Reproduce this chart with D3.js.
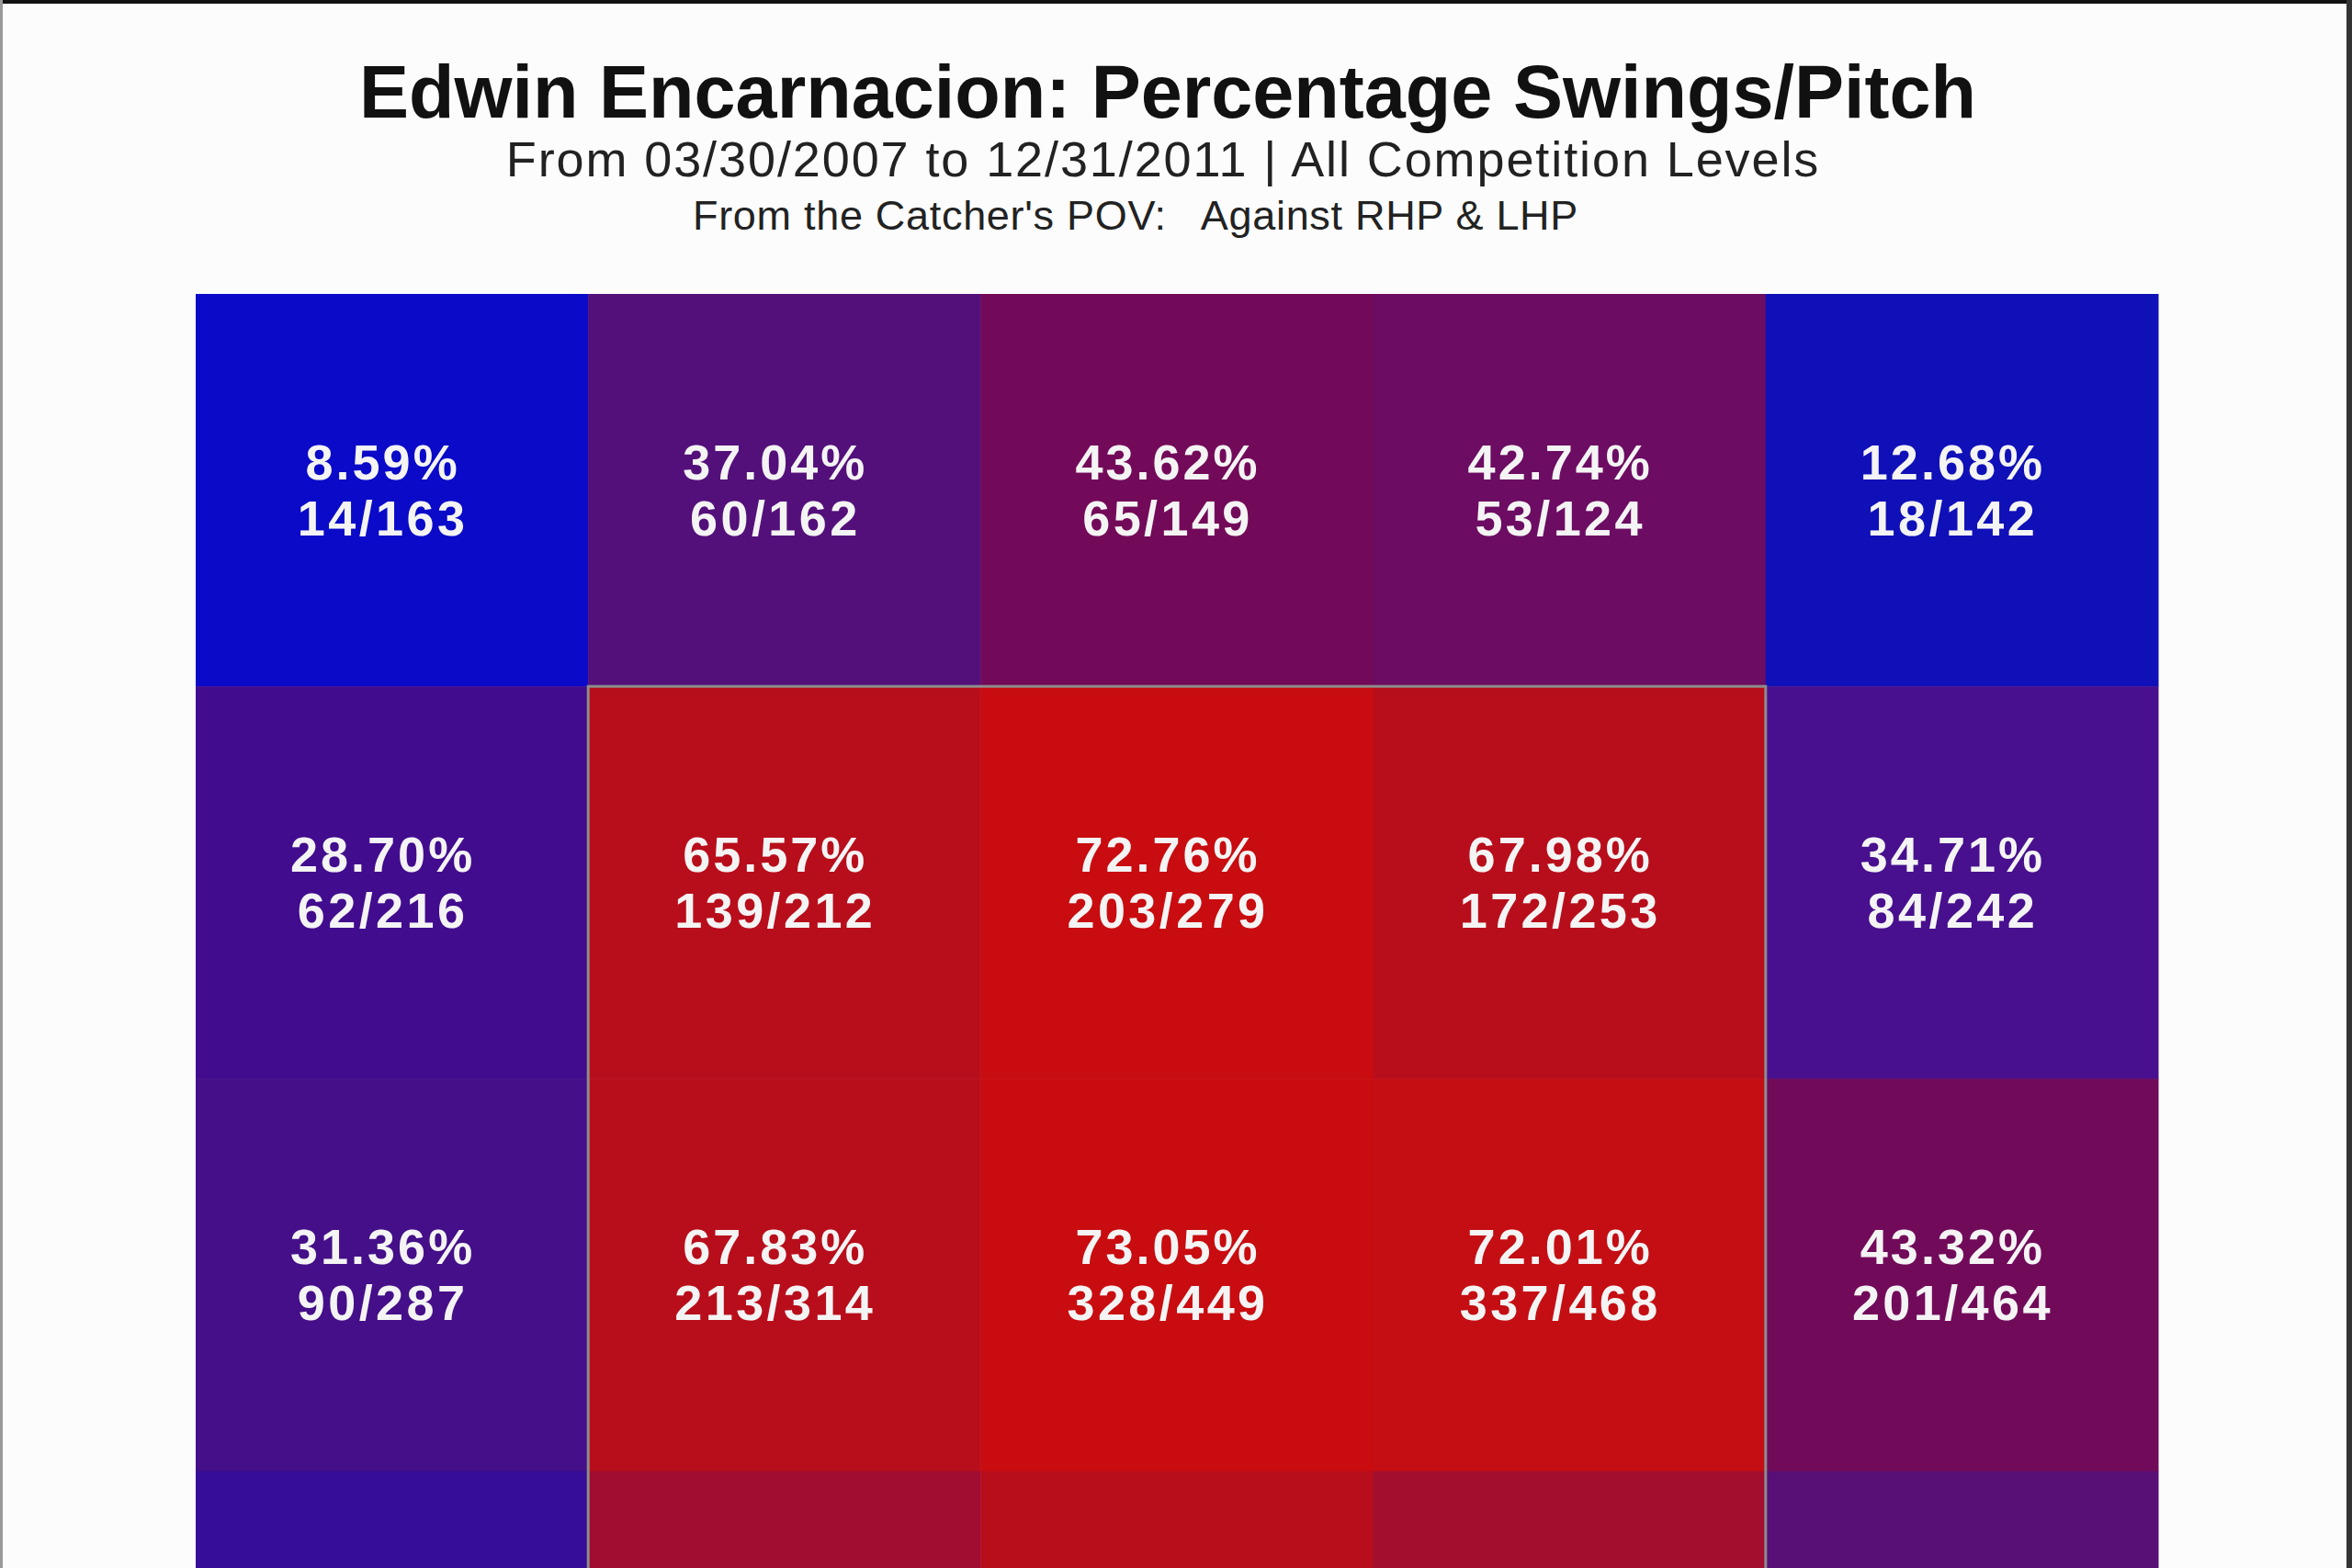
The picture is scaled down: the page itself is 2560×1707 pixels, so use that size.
<!DOCTYPE html>
<html>
<head>
<meta charset="utf-8">
<script src="https://cdn.jsdelivr.net/npm/d3@7"></script>
<style>
  html, body { margin: 0; padding: 0; background: #fcfcfc; }
  svg { display: block; }
  text { font-family: "Liberation Sans", Arial, sans-serif; }
</style>
</head>
<body>
<script>
// ---------- data ----------
const titleText = "Edwin Encarnacion: Percentage Swings/Pitch";
const subtitleText = "From 03/30/2007 to 12/31/2011 | All Competition Levels";
const povText = "From the Catcher's POV:   Against RHP & LHP";

const rowIds = [0, 1, 2, 3];          // top to bottom (row 3 mostly cut off)
const colIds = [0, 1, 2, 3, 4];       // left to right (catcher's view)

// percentage of swings per pitch, per row
const pctRow0 = [8.59, 37.04, 43.62, 42.74, 12.68];
const pctRow1 = [28.70, 65.57, 72.76, 67.98, 34.71];
const pctRow2 = [31.36, 67.83, 73.05, 72.01, 43.32];
const pctRow3 = [25, 58, 66, 59, 38];   // estimated from colour, labels not visible

const swingsRow0 = [14, 60, 65, 53, 18];
const swingsRow1 = [62, 139, 203, 172, 84];
const swingsRow2 = [90, 213, 328, 337, 201];
const pitchesRow0 = [163, 162, 149, 124, 142];
const pitchesRow1 = [216, 212, 279, 253, 242];
const pitchesRow2 = [287, 314, 449, 468, 464];

const pctRows = [pctRow0, pctRow1, pctRow2, pctRow3];
const swingRows = [swingsRow0, swingsRow1, swingsRow2, null];
const pitchRows = [pitchesRow0, pitchesRow1, pitchesRow2, null];

// strike zone: rows 1..3, cols 1..3
const zoneRowRange = [1, 3];
const zoneColRange = [1, 3];

// ---------- colour scale (style) ----------
const colorDomain = [8.59, 12.68, 28.70, 31.36, 34.71, 37.04, 42.74, 43.32, 65.57, 67.98, 72.0, 72.76];
const colorRange = ["#0a0ac8", "#1010b8", "#420c8e", "#440f88", "#48108e", "#54107a",
                    "#6c0c62", "#720a5a", "#b80e1c", "#b80e1c", "#c40e14", "#c80c10"];
const color = d3.scaleLinear().domain(colorDomain).range(colorRange).clamp(true);

// ---------- layout ----------
const W = 2560, H = 1707;
const gridLeft = 213, gridTop = 320, cell = 427.2;

const cells = [];
rowIds.forEach(r => colIds.forEach(c => {
  cells.push({
    r, c,
    pct: pctRows[r][c],
    sw: swingRows[r] ? swingRows[r][c] : null,
    pi: pitchRows[r] ? pitchRows[r][c] : null
  });
}));

const x = d3.scaleBand().domain(colIds).range([gridLeft, gridLeft + cell * colIds.length]).padding(0);
const y = d3.scaleBand().domain(rowIds).range([gridTop, gridTop + cell * rowIds.length]).padding(0);

const svg = d3.select("body").append("svg").attr("width", W).attr("height", H);

svg.append("rect").attr("x", 0).attr("y", 0).attr("width", W).attr("height", H).attr("fill", "#fcfcfc");

// cells
svg.append("g").selectAll("rect").data(cells).join("rect")
  .attr("x", d => x(d.c))
  .attr("y", d => y(d.r))
  .attr("width", x.bandwidth() + 0.5)
  .attr("height", y.bandwidth() + 0.5)
  .attr("fill", d => color(d.pct));

// strike zone outline
svg.append("rect")
  .attr("x", x(zoneColRange[0]))
  .attr("y", y(zoneRowRange[0]))
  .attr("width", x(zoneColRange[1]) + x.bandwidth() - x(zoneColRange[0]))
  .attr("height", y(zoneRowRange[1]) + y.bandwidth() - y(zoneRowRange[0]))
  .attr("fill", "none")
  .attr("stroke", "#8c8c8c")
  .attr("stroke-width", 3);

// labels
const lbl = svg.append("g").selectAll("g").data(cells.filter(d => d.sw !== null)).join("g")
  .attr("transform", d => `translate(${x(d.c) + x.bandwidth() / 2 - 10},${y(d.r) + y.bandwidth() / 2})`);
lbl.append("text")
  .attr("y", -12)
  .attr("text-anchor", "middle")
  .attr("fill", "#f4f4f4")
  .attr("font-size", 54)
  .attr("font-weight", "bold")
  .attr("letter-spacing", 3)
  .text(d => d.pct.toFixed(2) + "%");
lbl.append("text")
  .attr("y", 49)
  .attr("text-anchor", "middle")
  .attr("fill", "#f4f4f4")
  .attr("font-size", 54)
  .attr("font-weight", "bold")
  .attr("letter-spacing", 3.4)
  .text(d => d.sw + "/" + d.pi);

// titles
svg.append("text").attr("x", 1271).attr("y", 128)
  .attr("text-anchor", "middle").attr("font-size", 81).attr("font-weight", "bold")
  .attr("fill", "#111").text(titleText);
svg.append("text").attr("x", 1266).attr("y", 192)
  .attr("text-anchor", "middle").attr("font-size", 54).attr("letter-spacing", 1.9)
  .attr("fill", "#222").text(subtitleText);
svg.append("text").attr("x", 1236).attr("y", 250)
  .attr("text-anchor", "middle").attr("font-size", 45).attr("letter-spacing", 0.7)
  .attr("fill", "#222").style("white-space", "pre").text(povText);

// page frame
svg.append("rect").attr("x", 0).attr("y", 0).attr("width", W).attr("height", 4).attr("fill", "#111");
svg.append("rect").attr("x", 0).attr("y", 0).attr("width", 3).attr("height", H).attr("fill", "#9a9a9a");
svg.append("rect").attr("x", W - 6).attr("y", 0).attr("width", 6).attr("height", H).attr("fill", "#333");
</script>
</body>
</html>
